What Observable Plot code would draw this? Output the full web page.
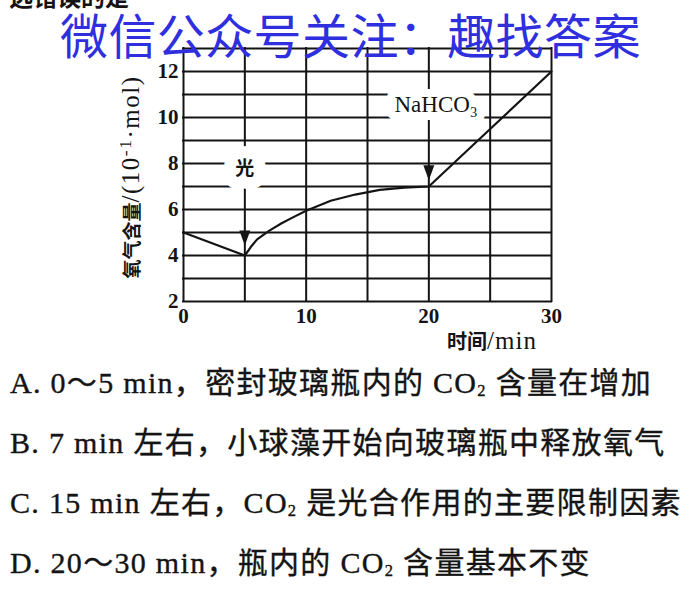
<!DOCTYPE html>
<html><head><meta charset="utf-8">
<script src="https://cdn.jsdelivr.net/npm/d3@7"></script>
<script src="https://cdn.jsdelivr.net/npm/@observablehq/plot@0.6"></script>
<style>
html,body{margin:0;padding:0;background:#fff;}
#page{position:relative;width:700px;height:616px;overflow:hidden;background:#fff;font-family:"Liberation Serif","Noto Sans CJK SC",serif;color:#141414;}
#chart{position:absolute;left:0;top:0;}
.abs{position:absolute;white-space:nowrap;}
.cjk{font-family:"Noto Sans CJK SC";}
#wm{left:60px;top:9px;font:48px/1 "Noto Sans CJK SC";letter-spacing:0.4px;color:#2f2fe0;z-index:5;}
#cut{left:9px;top:-16px;font:bold 24px/1 "Noto Sans CJK SC";}
.opt{left:10px;font-size:30px;line-height:60px;height:60px;letter-spacing:1.3px;-webkit-text-stroke:0.35px #141414;}
.opt sub{font-size:0.55em;vertical-align:-0.2em;line-height:0;}
#yl{left:130px;top:177px;transform:translate(-50%,-50%) rotate(-90deg);font-size:25px;letter-spacing:1.5px;line-height:1;}
#yl .cjk{font-size:19px;font-weight:bold;letter-spacing:0;}
#yl sup{font-size:0.7em;vertical-align:0.45em;line-height:0;}
#xl{left:492px;top:340px;transform:translate(-50%,-50%);font-size:25px;letter-spacing:1px;line-height:1;}
#xl .cjk{font-size:20px;font-weight:bold;letter-spacing:0;}
</style></head>
<body>
<div id="page">
  <div id="chart"></div>
  <div class="abs" id="cut">选错误的是</div>
  <div class="abs" id="wm">微信公众号关注：趣找答案</div>
  <div class="abs" id="yl"><span class="cjk">氧气含量</span>/(10<sup>-1</sup>·mol)</div>
  <div class="abs" id="xl"><span class="cjk">时间</span>/min</div>
  <div class="abs opt" style="top:353px">A. 0～5 min，密封玻璃瓶内的 CO<sub>2</sub> 含量在增加</div>
  <div class="abs opt" style="top:413px">B. 7 min 左右，小球藻开始向玻璃瓶中释放氧气</div>
  <div class="abs opt" style="top:473px">C. 15 min 左右，CO<sub>2</sub> 是光合作用的主要限制因素</div>
  <div class="abs opt" style="top:533px">D. 20～30 min，瓶内的 CO<sub>2</sub> 含量基本不变</div>
</div>
<script>
const xGrid = [0, 5, 10, 15, 20, 25, 30];
const yGrid = [2, 3, 4, 5, 6, 7, 8, 9, 10, 11, 12, 13];
const xTicks = [0, 10, 20, 30];
const yTicks = [2, 4, 6, 8, 10, 12];
const time   = [0, 5, 5.5, 6, 7, 8, 9, 10, 12, 14, 16, 18, 20, 25, 30];
const oxygen = [5, 4, 4.38, 4.7, 5.08, 5.4, 5.68, 5.95, 6.38, 6.65, 6.85, 6.95, 7.0, 9.5, 12];
const noteText = ["光", "NaHCO₃"];
const noteX = [5, 20.6];
const noteY = [7.77, 10.55];
const arrowX = [5, 20];
const arrowY = [4.76, 7.6];

const series = time.map((t, i) => ({t, o: oxygen[i]}));
const notes = noteText.map((s, i) => ({s, x: noteX[i], y: noteY[i]}));
const arrows = arrowX.map((x, i) => ({x, y: arrowY[i]}));
const downTriangle = {
  draw(ctx, size) {
    const k = Math.sqrt(size / Math.PI);
    ctx.moveTo(-1.1 * k, -1.5 * k);
    ctx.lineTo(1.1 * k, -1.5 * k);
    ctx.lineTo(0, 1.5 * k);
    ctx.closePath();
  }
};
const ink = "#141414";

const chart = Plot.plot({
  width: 700, height: 350,
  marginLeft: 183, marginRight: 149, marginTop: 48, marginBottom: 49,
  x: {domain: [0, 30]},
  y: {domain: [2, 13]},
  style: {fontFamily: "Liberation Serif", background: "transparent", color: ink, overflow: "visible"},
  marks: [
    Plot.ruleX(xGrid, {stroke: ink, strokeWidth: 2, strokeLinecap: "square"}),
    Plot.ruleY(yGrid, {stroke: ink, strokeWidth: 2, strokeLinecap: "square"}),
    Plot.line(series, {x: "t", y: "o", stroke: ink, strokeWidth: 2.2}),
    Plot.text([notes[0]], {x: "x", y: "y", text: "s", fontFamily: "Noto Sans CJK SC", fontSize: 19, fontWeight: "bold", fill: ink, stroke: "white", strokeWidth: 24, strokeLinejoin: "round", paintOrder: "stroke"}),
    Plot.text([notes[1]], {x: "x", y: "y", text: "s", fontFamily: "Liberation Serif", fontSize: 23, fill: ink, stroke: "white", strokeWidth: 16, strokeLinejoin: "round", paintOrder: "stroke"}),
    Plot.dot(arrows, {x: "x", y: "y", symbol: downTriangle, r: 5, fill: ink, stroke: null}),
    Plot.axisX({ticks: xTicks, tickSize: 0, tickPadding: 7, fontSize: 21, fontWeight: "bold", label: null}),
    Plot.axisY({ticks: yTicks, tickSize: 0, tickPadding: 5, fontSize: 21, fontWeight: "bold", label: null})
  ]
});
document.getElementById("chart").appendChild(chart);
</script>
</body></html>
